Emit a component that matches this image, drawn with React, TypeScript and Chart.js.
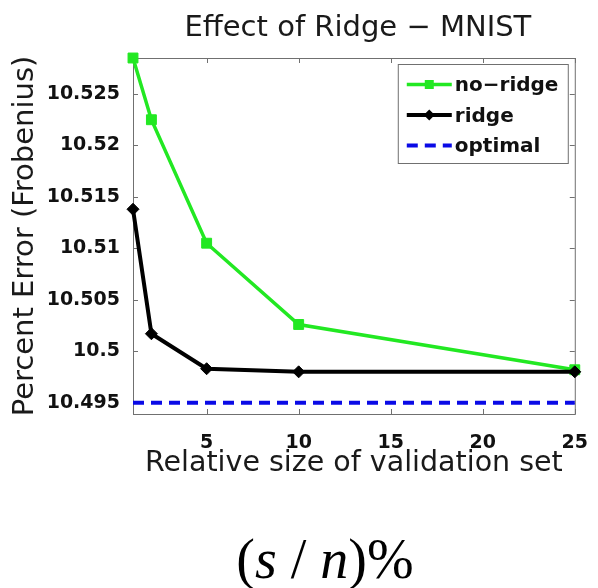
import { useEffect, useRef } from "react";
import { Chart, registerables } from "chart.js";

Chart.register(...registerables);

// Validation-set size (% of n) and the resulting percent error
const sampleSizes = [1, 2, 5, 10, 25];
const noRidgeError = [10.5285, 10.5225, 10.5105, 10.5026, 10.4982];
const ridgeError = [10.5138, 10.5017, 10.4983, 10.498, 10.498];
const optimalError = 10.495;

const xTicks = [5, 10, 15, 20, 25];
const yTicks = [10.495, 10.5, 10.505, 10.51, 10.515, 10.52, 10.525];
const yTickLabels = ["10.495", "10.5", "10.505", "10.51", "10.515", "10.52", "10.525"];

const seriesNames = ["no\u2212ridge", "ridge", "optimal"];
const chartTitle = "Effect of Ridge \u2212 MNIST";

const GREEN = "#22e822";
const BLACK = "#000000";
const BLUE = "#0a0ae6";
const TEXT = "#111111";
const AXIS = "#707070";

// Title centred over the plot area rather than the whole canvas
const axesTitle = {
  id: "axesTitle",
  afterDraw(chart: any) {
    const { ctx, chartArea: a } = chart;
    ctx.save();
    ctx.fillStyle = "#1a1a1a";
    ctx.font = "29px 'DejaVu Sans'";
    ctx.textAlign = "center";
    ctx.textBaseline = "alphabetic";
    ctx.fillText(chartTitle, (a.left + a.right) / 2 + 4, a.top - 22);
    ctx.restore();
  },
};

// MATLAB-style axes box with inward tick marks on all four sides
const axesBox = {
  id: "axesBox",
  beforeDatasetsDraw(chart: any) {
    const { ctx, chartArea: a, scales } = chart;
    const len = 5;
    ctx.save();
    ctx.strokeStyle = AXIS;
    ctx.lineWidth = 1;
    ctx.strokeRect(a.left + 0.5, a.top + 0.5, a.right - a.left, a.bottom - a.top);
    ctx.beginPath();
    for (const v of xTicks) {
      const px = Math.round(scales.x.getPixelForValue(v)) + 0.5;
      ctx.moveTo(px, a.bottom);
      ctx.lineTo(px, a.bottom - len);
      ctx.moveTo(px, a.top);
      ctx.lineTo(px, a.top + len);
    }
    for (const v of yTicks) {
      const py = Math.round(scales.y.getPixelForValue(v)) + 0.5;
      ctx.moveTo(a.left, py);
      ctx.lineTo(a.left + len, py);
      ctx.moveTo(a.right, py);
      ctx.lineTo(a.right - len, py);
    }
    ctx.stroke();
    ctx.restore();
  },
};

// Small marker glyph for a legend entry
function legendMarker(ctx: CanvasRenderingContext2D, style: string, cx: number, cy: number, color: string) {
  ctx.fillStyle = color;
  ctx.beginPath();
  if (style === "rect") {
    const s = 4.5;
    ctx.rect(cx - s, cy - s, 2 * s, 2 * s);
  } else if (style === "rectRot") {
    const r = 5.5;
    ctx.moveTo(cx, cy - r);
    ctx.lineTo(cx + r, cy);
    ctx.lineTo(cx, cy + r);
    ctx.lineTo(cx - r, cy);
    ctx.closePath();
  }
  ctx.fill();
}

// Boxed legend in the upper-right corner, line sample plus marker
const boxedLegend = {
  id: "boxedLegend",
  afterDatasetsDraw(chart: any) {
    const { ctx, chartArea: a } = chart;
    const w = 170;
    const h = 99;
    const x0 = a.right - 7 - w;
    const y0 = a.top + 6;
    ctx.save();
    ctx.fillStyle = "#ffffff";
    ctx.fillRect(x0, y0, w, h);
    ctx.strokeStyle = AXIS;
    ctx.lineWidth = 1;
    ctx.strokeRect(x0 + 0.5, y0 + 0.5, w, h);
    chart.data.datasets.forEach((ds: any, i: number) => {
      const baseline = y0 + 27 + i * 30.5;
      const ly = baseline - 6.5;
      const lx0 = x0 + 9;
      const lx1 = x0 + 54;
      ctx.strokeStyle = ds.borderColor;
      ctx.lineWidth = ds.borderWidth;
      ctx.setLineDash(ds.borderDash || []);
      ctx.beginPath();
      ctx.moveTo(lx0, ly);
      ctx.lineTo(lx1, ly);
      ctx.stroke();
      ctx.setLineDash([]);
      if (ds.pointRadius > 0) {
        legendMarker(ctx, ds.pointStyle, (lx0 + lx1) / 2, ly, ds.pointBackgroundColor);
      }
      ctx.fillStyle = TEXT;
      ctx.font = "bold 20px 'DejaVu Sans'";
      ctx.textAlign = "left";
      ctx.textBaseline = "alphabetic";
      ctx.fillText(ds.label, x0 + 57, baseline);
    });
    ctx.restore();
  },
};

export default function App() {
  const canvasRef = useRef<HTMLCanvasElement | null>(null);

  useEffect(() => {
    const canvas = canvasRef.current;
    if (!canvas) return;

    const chart = new Chart(canvas, {
      type: "line",
      data: {
        datasets: [
          {
            label: seriesNames[0],
            data: sampleSizes.map((x, i) => ({ x, y: noRidgeError[i] })),
            borderColor: GREEN,
            backgroundColor: GREEN,
            borderWidth: 3.5,
            pointStyle: "rect",
            pointRadius: 7,
            pointBackgroundColor: GREEN,
            pointBorderColor: GREEN,
            pointBorderWidth: 1,
            tension: 0,
            clip: false,
            order: 3,
          } as any,
          {
            label: seriesNames[1],
            data: sampleSizes.map((x, i) => ({ x, y: ridgeError[i] })),
            borderColor: BLACK,
            backgroundColor: BLACK,
            borderWidth: 4,
            pointStyle: "rectRot",
            pointRadius: 6,
            pointBackgroundColor: BLACK,
            pointBorderColor: BLACK,
            pointBorderWidth: 1,
            tension: 0,
            clip: false,
            order: 1,
          } as any,
          {
            label: seriesNames[2],
            data: [
              { x: sampleSizes[0], y: optimalError },
              { x: sampleSizes[sampleSizes.length - 1], y: optimalError },
            ],
            borderColor: BLUE,
            backgroundColor: BLUE,
            borderWidth: 4,
            borderDash: [11, 7],
            pointRadius: 0,
            tension: 0,
            clip: false,
            order: 2,
          } as any,
        ],
      },
      options: {
        animation: false,
        responsive: false,
        maintainAspectRatio: false,
        devicePixelRatio: 1,
        events: [],
        layout: { padding: { left: 0, right: 15, top: 58, bottom: 104 } },
        plugins: {
          legend: { display: false },
          tooltip: { enabled: false },
          title: { display: false },
        },
        scales: {
          x: {
            type: "linear",
            min: 1,
            max: 25,
            grid: { display: false },
            border: { display: false },
            afterBuildTicks: (s: any) => {
              s.ticks = xTicks.map((v) => ({ value: v }));
            },
            ticks: {
              color: TEXT,
              font: { family: "'DejaVu Sans'", size: 19, weight: "bold" },
              padding: 10,
              autoSkip: false,
              maxRotation: 0,
              callback: (v: any) => String(v),
            },
            title: {
              display: true,
              text: "Relative size of validation set",
              color: "#1a1a1a",
              font: { family: "'DejaVu Sans'", size: 28.5, weight: "normal" },
              padding: { top: 0, bottom: 3 },
            },
            afterFit: (s: any) => {
              s.height = 70;
            },
          },
          y: {
            type: "linear",
            min: 10.4939,
            max: 10.5285,
            grid: { display: false },
            border: { display: false },
            afterBuildTicks: (s: any) => {
              s.ticks = yTicks.map((v) => ({ value: v }));
            },
            ticks: {
              color: TEXT,
              font: { family: "'DejaVu Sans'", size: 19, weight: "bold" },
              padding: 5,
              autoSkip: false,
              callback: (v: any) => {
                const i = yTicks.findIndex((t) => Math.abs(t - Number(v)) < 1e-7);
                return i >= 0 ? yTickLabels[i] : "";
              },
            },
            title: {
              display: true,
              text: "Percent Error (Frobenius)",
              color: "#1a1a1a",
              font: { family: "'DejaVu Sans'", size: 29, weight: "normal" },
              padding: { top: 8, bottom: 0 },
            },
            afterFit: (s: any) => {
              s.width = 133;
            },
          },
        },
      } as any,
      plugins: [axesBox, boxedLegend, axesTitle],
    });

    return () => chart.destroy();
  }, []);

  return (
    <div
      style={{
        position: "fixed",
        left: 0,
        top: 0,
        width: 598,
        height: 588,
        background: "#ffffff",
        overflow: "hidden",
      }}
    >
      <canvas ref={canvasRef} width={598} height={588} style={{ display: "block" }} />
      <div
        style={{
          position: "absolute",
          left: 325,
          top: 531,
          transform: "translateX(-50%)",
          fontFamily: "'Liberation Serif', 'Times New Roman', serif",
          fontSize: 56,
          lineHeight: "56px",
          color: "#000",
          whiteSpace: "pre",
        }}
      >
        (<i>s</i> / <i>n</i>)%
      </div>
    </div>
  );
}
